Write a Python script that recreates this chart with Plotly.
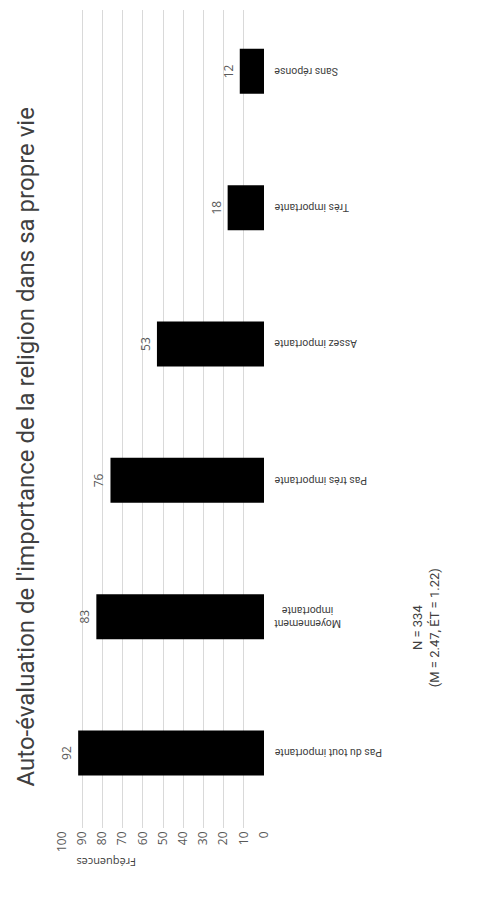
import plotly.graph_objects as go

categories = ["Pas du tout importante", "Moyennement importante", "Pas très importante",
              "Assez importante", "Très importante", "Sans réponse"]
cat_labels = ["Pas du tout importante", "Moyennement<br>importante", "Pas très importante",
              "Assez importante", "Très importante", "Sans réponse"]
values = [92, 83, 76, 53, 18, 12]
tick_vals = [0, 10, 20, 30, 40, 50, 60, 70, 80, 90, 100]
title_text = "Auto-évaluation de l'importance de la religion dans sa propre vie"
note_text = "N = 334<br>(M = 2.47, ÉT = 1.22)"
axis_title = "Fréquences"

W, H = 495, 899
L, R, T, B = 54, 239, 2, 79
NARROW = "Liberation Sans Narrow, Roboto, sans-serif"

fig = go.Figure()
fig.add_trace(go.Bar(
    x=values, y=categories, orientation="h",
    marker=dict(color="black", line=dict(width=0)),
    text=[str(v) for v in values], textposition="outside", textangle=-90,
    textfont=dict(size=12, color="#595959", family="Open Sans"),
    cliponaxis=False,
))

for lab, cat in zip(cat_labels, categories):
    fig.add_annotation(x=1.0, xref="paper", xshift=8, y=cat, yref="y",
                       text=lab, textangle=180, showarrow=False,
                       xanchor="left", yanchor="middle", align="center",
                       font=dict(size=10.5, color="#404040", family=NARROW))

fig.add_annotation(x=-0.18, xref="paper", y=0.466, yref="paper",
                   text=title_text, textangle=-90, showarrow=False,
                   xanchor="center", yanchor="middle",
                   font=dict(size=24, color="#404040", family=NARROW))

fig.add_annotation(x=1.80, xref="paper", y=0.245, yref="paper",
                   text=note_text, textangle=-90, showarrow=False,
                   xanchor="center", yanchor="middle", align="center",
                   font=dict(size=13, color="#404040", family="Roboto"))

fig.add_annotation(x=0.22, xref="paper", y=-0.043, yref="paper",
                   text=axis_title, textangle=180, showarrow=False,
                   xanchor="center", yanchor="middle",
                   font=dict(size=11, color="#404040", family="Open Sans"))

fig.update_xaxes(range=[100, 0], tickvals=tick_vals, tickangle=-90,
                 showgrid=True, gridcolor="#d9d9d9", gridwidth=1,
                 zeroline=False, showline=False, ticks="",
                 tickfont=dict(size=12, color="#595959", family="Open Sans"))
fig.update_yaxes(categoryorder="array", categoryarray=categories,
                 showticklabels=False, showgrid=False, zeroline=False,
                 showline=False, ticks="", range=[-0.55, 5.45])

fig.update_layout(width=W, height=H, margin=dict(l=L, r=R, t=T, b=B),
                  bargap=0.67, plot_bgcolor="white", paper_bgcolor="white",
                  showlegend=False)

fig.write_html("out.html")
